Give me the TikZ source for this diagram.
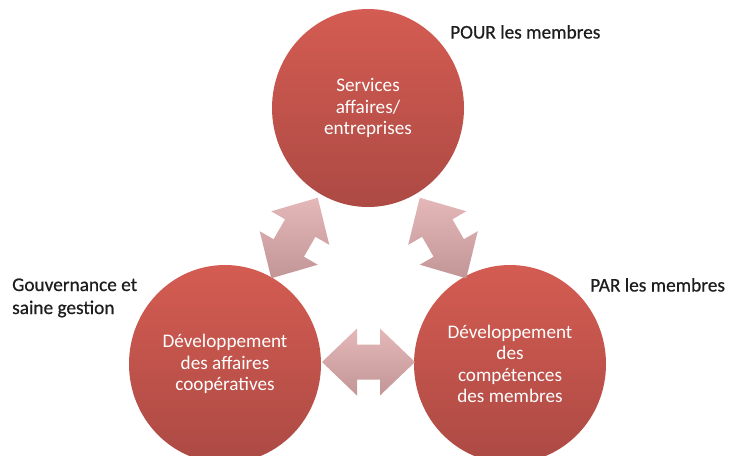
\documentclass[tikz,border=0pt]{standalone}
\usepackage{fontspec}
\setmainfont{Carlito}
\newfontfamily\labelfont[FakeBold=0.6]{Carlito}
\usetikzlibrary{shapes.geometric,calc}
\definecolor{circtop}{RGB}{212,92,82}
\definecolor{circbot}{RGB}{172,74,68}
\definecolor{arrtop}{RGB}{228,184,184}
\definecolor{arrbot}{RGB}{194,150,150}
\definecolor{labelc}{RGB}{30,30,30}
\tikzset{
  bubble/.style={ellipse, minimum width=192pt, minimum height=198pt, inner sep=0pt,
    top color=circtop, bottom color=circbot, draw=none, text=white, align=center,
    font=\fontsize{19.2}{21.5}\selectfont},
  outerlabel/.style={anchor=base west, text=labelc, inner sep=0pt,
    font=\labelfont\fontsize{19.3}{23}\selectfont},
  dblarrow/.style={top color=arrtop, bottom color=arrbot, draw=none}
}
\newcommand\arrowshape{(-46.5,0) -- (-11.5,33.5) -- (-11.5,17.5) -- (11.5,17.5) -- (11.5,33.5) -- (46.5,0) -- (11.5,-33.5) -- (11.5,-17.5) -- (-11.5,-17.5) -- (-11.5,-33.5) -- cycle}
\begin{document}
\begin{tikzpicture}[x=1pt,y=-1pt]
\useasboundingbox (0,0) rectangle (738,455);
\fill[white] (0,0) rectangle (738,455);
\clip (0,0) rectangle (738,455);
\node[bubble] (svc) at (368,108) {Services\\affaires/\\entreprises};
\node[bubble] (dac) at (225,364) {Développement\\des affaires\\coopératives};
\node[bubble] (dcm) at (510,364) {Développement\\des\\compétences\\des membres};
\begin{scope}[shift={($(svc)!0.5!(dac)+(-2,2)$)}, rotate=60]
  \path[dblarrow] \arrowshape;
\end{scope}
\begin{scope}[shift={($(svc)!0.5!(dcm)+(4,2)$)}, rotate=-60]
  \path[dblarrow] \arrowshape;
\end{scope}
\begin{scope}[shift={($(dac)!0.5!(dcm)+(1,-2)$)}]
  \path[dblarrow] \arrowshape;
\end{scope}
\node[outerlabel] (pour) at (450,38.5) {POUR les membres};
\node[outerlabel] (par) at (590,291.5) {PAR les membres};
\node[outerlabel] (gov1) at (12,291) {Gouvernance et};
\node[outerlabel] (gov2) at (12,314) {saine gestion};
\end{tikzpicture}
\end{document}
